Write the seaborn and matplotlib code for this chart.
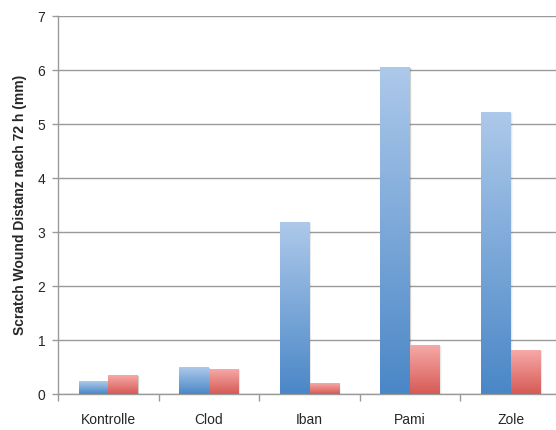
import numpy as np
import pandas as pd
import matplotlib
matplotlib.use("Agg")
import matplotlib.pyplot as plt
from matplotlib.colors import LinearSegmentedColormap
import seaborn as sns

categories = ["Kontrolle", "Clod", "Iban", "Pami", "Zole"]
series_names = ["Serie 1", "Serie 2"]
values_blue = [0.24, 0.50, 3.18, 6.05, 5.22]
values_red = [0.35, 0.46, 0.20, 0.90, 0.81]
y_ticks = [0, 1, 2, 3, 4, 5, 6, 7]

df = pd.DataFrame({
    "Gruppe": categories * 2,
    "Serie": [series_names[0]] * len(categories) + [series_names[1]] * len(categories),
    "Wert": values_blue + values_red,
})

sns.set_theme(style="white")
plt.rcParams["font.family"] = ["Liberation Sans", "DejaVu Sans"]

fig = plt.figure(figsize=(5.56, 4.30), dpi=100)
ax = fig.add_axes([58 / 556, 36 / 430, 503 / 556, 378 / 430])

sns.barplot(data=df, x="Gruppe", y="Wert", hue="Serie", order=categories,
            hue_order=series_names, palette=["#6d9fd6", "#e37b78"],
            width=0.59, gap=0, errorbar=None, legend=False, ax=ax, zorder=3)

# gradient fills (light at top, saturated at bottom)
grads = {
    0: LinearSegmentedColormap.from_list("b", ["#4a87c7", "#adc9ea"]),
    1: LinearSegmentedColormap.from_list("r", ["#d65a55", "#f6a9a7"]),
}
ramp = np.linspace(0, 1, 256).reshape(-1, 1)
for i, cont in enumerate(ax.containers):
    for bar in cont:
        x0, y0 = bar.get_x(), bar.get_y()
        w, h = bar.get_width(), bar.get_height()
        bar.set_facecolor("none")
        bar.set_edgecolor("none")
        # soft shadow to the right of each bar
        for k, a in enumerate([0.10, 0.06, 0.03]):
            ax.add_patch(plt.Rectangle((x0 + w, y0), 0.006 * (k + 1), h - 0.02,
                                       facecolor="#000000", alpha=a, zorder=2,
                                       edgecolor="none"))
        ax.imshow(ramp, cmap=grads[i], aspect="auto", origin="lower",
                  extent=[x0, x0 + w, y0, y0 + h], zorder=3, interpolation="bilinear")

ax.set_xlim(-0.5, len(categories) - 0.5)
ax.set_ylim(0, 7)
ax.set_yticks(y_ticks)
ax.set_yticklabels([str(t) for t in y_ticks])
ax.set_xticks(range(len(categories)))
ax.set_xticklabels(categories)
ax.set_xticks(np.arange(-0.5, len(categories), 1), minor=True)

ax.grid(axis="y", color="#9a9a9a", linewidth=1.0, zorder=0)
ax.set_axisbelow(True)
for s in ["top", "right"]:
    ax.spines[s].set_visible(False)
for s in ["left", "bottom"]:
    ax.spines[s].set_color("#9a9a9a")
    ax.spines[s].set_linewidth(1.0)

ax.tick_params(axis="y", which="major", direction="out", length=4, width=1,
               color="#9a9a9a", labelsize=10, pad=5, left=True)
ax.tick_params(axis="x", which="major", length=0, labelsize=10, pad=14)
ax.tick_params(axis="x", which="minor", direction="out", length=5, width=1,
               color="#9a9a9a", bottom=True)

ax.set_xlabel("")
ax.set_ylabel("Scratch Wound Distanz nach 72 h (mm)", fontsize=10,
              fontweight="bold", labelpad=8)

fig.savefig("out.png", dpi=100, facecolor="white")
